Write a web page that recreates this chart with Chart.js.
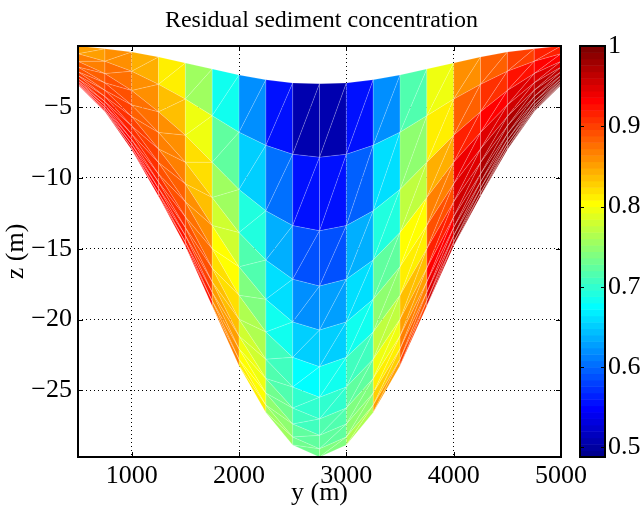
<!DOCTYPE html>
<html><head><meta charset="utf-8">
<script src="https://cdn.jsdelivr.net/npm/chart.js@4/dist/chart.umd.min.js"></script>
<style>html,body{margin:0;padding:0;background:#fff;}#wrap{width:643px;height:507px;}</style>
</head><body><div id="wrap"><canvas id="c" width="643" height="507"></canvas></div>
<script>
// ---- data ----
const yNodes = [500,750,1000,1250,1500,1750,2000,2250,2500,2750,3000,3250,3500,3750,4000,4250,4500,4750,5000];
const zSurface = [-0.68,-0.88,-1.1,-1.45,-1.88,-2.3,-2.72,-3.07,-3.29,-3.34,-3.29,-3.07,-2.72,-2.3,-1.88,-1.45,-1.1,-0.88,-0.68];
const zBed = [-3.43,-5.31,-8.0,-11.29,-14.81,-19.04,-23.25,-26.55,-28.85,-29.7,-28.85,-26.55,-23.25,-19.04,-14.81,-11.29,-8.0,-5.31,-3.43];
const sigmaLevels = [0,0.197,0.394,0.542,0.66,0.758,0.84,0.898,0.942,0.978,1];
const conc = [
 [0.855,0.868,0.88,0.89,0.899,0.907,0.914,0.92,0.926,0.931],
 [0.857,0.874,0.888,0.9,0.91,0.918,0.925,0.931,0.936,0.94],
 [0.84,0.857,0.872,0.885,0.897,0.907,0.915,0.922,0.929,0.935],
 [0.808,0.836,0.856,0.871,0.884,0.895,0.905,0.913,0.92,0.926],
 [0.752,0.795,0.818,0.838,0.856,0.874,0.89,0.903,0.914,0.922],
 [0.686,0.722,0.752,0.778,0.8,0.818,0.834,0.848,0.86,0.87],
 [0.616,0.655,0.69,0.718,0.742,0.762,0.78,0.795,0.806,0.815],
 [0.555,0.603,0.635,0.662,0.685,0.705,0.72,0.733,0.745,0.755],
 [0.505,0.555,0.59,0.623,0.652,0.678,0.698,0.712,0.725,0.735],
 [0.505,0.553,0.59,0.624,0.655,0.68,0.7,0.714,0.727,0.737],
 [0.553,0.6,0.632,0.662,0.688,0.708,0.724,0.738,0.75,0.76],
 [0.616,0.66,0.695,0.725,0.75,0.772,0.792,0.81,0.83,0.848],
 [0.715,0.745,0.775,0.8,0.815,0.835,0.852,0.868,0.885,0.9],
 [0.795,0.815,0.845,0.87,0.895,0.915,0.93,0.942,0.95,0.957],
 [0.856,0.885,0.915,0.936,0.95,0.96,0.967,0.972,0.976,0.98],
 [0.88,0.91,0.935,0.95,0.962,0.97,0.977,0.982,0.986,0.989],
 [0.9,0.925,0.945,0.96,0.97,0.978,0.985,0.99,0.994,0.997],
 [0.915,0.935,0.952,0.965,0.975,0.983,0.99,0.995,0.998,1.0]
];
const xTicks = [1000,2000,3000,4000,5000];
const zTicks = [-25,-20,-15,-10,-5];
const cbTicks = [0.5,0.6,0.7,0.8,0.9,1];
const cLim = [0.488,1.0];
const zLim = [-29.7,-0.68];
const yLim = [500,5000];
const titleText = 'Residual sediment concentration';
const xLabel = 'y (m)';
const zLabel = 'z (m)';

// ---- jet colormap (64) ----
const clamp = v => Math.max(0, Math.min(1, v));
function jetIdx(i){ // 1..64
  const t = i/64;
  const r = clamp(Math.min(4*t-1.5, -4*t+4.5));
  const g = clamp(Math.min(4*t-0.5, -4*t+3.5));
  const b = clamp(Math.min(4*t+0.5, -4*t+2.5));
  return `rgb(${Math.round(r*255)},${Math.round(g*255)},${Math.round(b*255)})`;
}
function colorFor(v){
  let i = Math.floor((v-cLim[0])/(cLim[1]-cLim[0])*64)+1;
  i = Math.max(1, Math.min(64, i));
  return jetIdx(i);
}
const FONT = 'Liberation Serif, Times New Roman, serif';
const fmtMinus = v => v < 0 ? '\u2212' + Math.abs(v) : String(v);
const noPad = s => { s.paddingTop = 0; s.paddingBottom = 0; s.paddingLeft = 0; s.paddingRight = 0; };

const meshPlugin = {
  id: 'mesh',
  beforeDatasetsDraw(chart){
    const {ctx, chartArea:a, scales:{x, y}} = chart;
    const zz = (i, s) => zSurface[i] + sigmaLevels[s]*(zBed[i]-zSurface[i]);
    const tris = [];
    for (let c = 0; c < yNodes.length-1; c++){
      const px0 = x.getPixelForValue(yNodes[c]), px1 = x.getPixelForValue(yNodes[c+1]);
      for (let k = 0; k < sigmaLevels.length-1; k++){
        const TL = [px0, y.getPixelForValue(zz(c,k))];
        const TR = [px1, y.getPixelForValue(zz(c+1,k))];
        const BL = [px0, y.getPixelForValue(zz(c,k+1))];
        const BR = [px1, y.getPixelForValue(zz(c+1,k+1))];
        const col = colorFor(conc[c][k]);
        tris.push([TL,TR,BL,col]);
        tris.push([TR,BR,BL,col]);
      }
    }
    ctx.save();
    ctx.beginPath(); ctx.rect(a.left, a.top, a.right-a.left, a.bottom-a.top); ctx.clip();
    for (const t of tris){
      ctx.beginPath(); ctx.moveTo(t[0][0],t[0][1]); ctx.lineTo(t[1][0],t[1][1]); ctx.lineTo(t[2][0],t[2][1]); ctx.closePath();
      ctx.fillStyle = t[3]; ctx.fill();
    }
    ctx.strokeStyle = 'rgba(255,255,255,0.22)'; ctx.lineWidth = 0.6;
    for (const t of tris){
      ctx.beginPath(); ctx.moveTo(t[0][0],t[0][1]); ctx.lineTo(t[1][0],t[1][1]); ctx.lineTo(t[2][0],t[2][1]); ctx.closePath();
      ctx.stroke();
    }
    ctx.restore();
  },
  afterDraw(chart){
    const {ctx, chartArea:a, scales:{x, y, cb}} = chart;
    ctx.save();
    ctx.strokeStyle = '#000'; ctx.lineWidth = 1;
    const tl = 5;
    ctx.beginPath();
    for (const v of xTicks){
      const px = Math.round(x.getPixelForValue(v))+0.5;
      ctx.moveTo(px, a.bottom); ctx.lineTo(px, a.bottom-tl);
      ctx.moveTo(px, a.top); ctx.lineTo(px, a.top+tl);
    }
    for (const v of zTicks){
      const py = Math.round(y.getPixelForValue(v))+0.5;
      ctx.moveTo(a.left, py); ctx.lineTo(a.left+tl, py);
      ctx.moveTo(a.right, py); ctx.lineTo(a.right-tl, py);
    }
    ctx.stroke();
    ctx.lineWidth = 2;
    ctx.strokeRect(a.left, a.top, a.right-a.left, a.bottom-a.top);
    // colorbar
    const x0 = cb.left + 19, w = 25;
    for (let i = 0; i < 64; i++){
      const v0 = cLim[0] + i*(cLim[1]-cLim[0])/64, v1 = cLim[0] + (i+1)*(cLim[1]-cLim[0])/64;
      const yTop = cb.getPixelForValue(v1), yBot = cb.getPixelForValue(v0);
      ctx.fillStyle = jetIdx(i+1);
      ctx.fillRect(x0, yTop, w, yBot-yTop+0.5);
    }
    ctx.lineWidth = 1;
    ctx.beginPath();
    for (const v of cbTicks){
      const py = Math.round(cb.getPixelForValue(v))+0.5;
      ctx.moveTo(x0, py); ctx.lineTo(x0+4, py);
      ctx.moveTo(x0+w, py); ctx.lineTo(x0+w-4, py);
    }
    ctx.stroke();
    ctx.lineWidth = 2;
    ctx.strokeRect(x0, cb.top, w, cb.bottom-cb.top);
    ctx.restore();
  }
};

const nodePoints = [];
yNodes.forEach((v,i) => { nodePoints.push({x:v, y:zSurface[i]}); nodePoints.push({x:v, y:zBed[i]}); });

new Chart(document.getElementById('c'), {
  type: 'scatter',
  data: { datasets: [{ data: nodePoints, pointRadius: 0, pointHoverRadius: 0, borderWidth: 0, showLine: false, xAxisID:'x', yAxisID:'y' }] },
  options: {
    responsive: false, animation: false, devicePixelRatio: 1,
    layout: { padding: 0, autoPadding: false },
    plugins: {
      legend: { display: false }, tooltip: { enabled: false },
      title: { display: true, text: titleText, color: '#000', font: { family: FONT, size: 24, weight: 'normal', lineHeight: 1.2 }, padding: { top: 6, bottom: 11.2 } }
    },
    scales: {
      x: {
        type: 'linear', position: 'bottom', min: yLim[0], max: yLim[1],
        afterFit: s => { s.height = 50; noPad(s); },
        afterBuildTicks: s => { s.ticks = xTicks.map(v => ({value: v})); },
        grid: { display: true, color: '#000', lineWidth: 1, drawTicks: false },
        border: { display: false, dash: [1,3] },
        ticks: { font: { family: FONT, size: 26 }, color: '#000', padding: 4, maxRotation: 0, autoSkip: false, callback: v => String(v) },
        title: { display: true, text: xLabel, color: '#000', font: { family: FONT, size: 26, lineHeight: 1 }, padding: { top: 0, bottom: 1 } }
      },
      y: {
        type: 'linear', position: 'left', min: zLim[0], max: zLim[1],
        afterFit: s => { s.width = 78; noPad(s); },
        afterBuildTicks: s => { s.ticks = zTicks.map(v => ({value: v})); },
        grid: { display: true, color: '#000', lineWidth: 1, drawTicks: false },
        border: { display: false, dash: [1,3] },
        ticks: { font: { family: FONT, size: 26 }, color: '#000', padding: 6, autoSkip: false, callback: v => fmtMinus(v) },
        title: { display: true, text: zLabel, color: '#000', font: { family: FONT, size: 26, lineHeight: 1 }, padding: { top: 3, bottom: 0 } }
      },
      cb: {
        type: 'linear', axis: 'y', position: 'right', min: cLim[0], max: cLim[1],
        afterFit: s => { s.width = 82; noPad(s); },
        afterBuildTicks: s => { s.ticks = cbTicks.map(v => ({value: v})); },
        grid: { display: false, drawTicks: false, drawOnChartArea: false },
        border: { display: false },
        ticks: { font: { family: FONT, size: 26 }, color: '#000', padding: 47, autoSkip: false, callback: v => String(v) }
      }
    }
  },
  plugins: [meshPlugin]
});
</script></body></html>
